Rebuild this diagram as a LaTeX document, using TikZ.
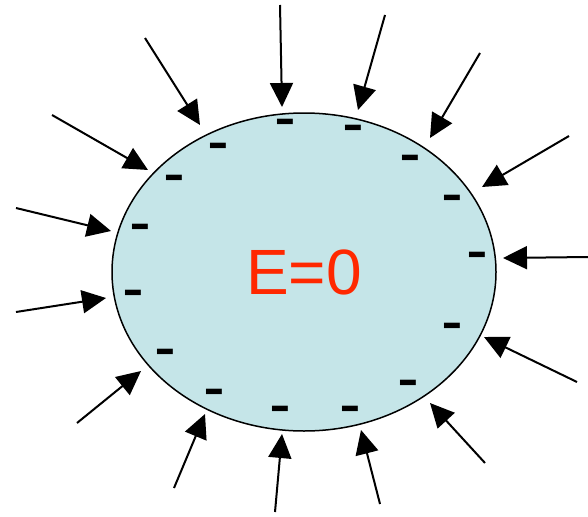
\documentclass[tikz,border=0pt]{standalone}
\usepackage{fontspec}
\setmainfont{Liberation Sans}
\usetikzlibrary{arrows.meta}
\definecolor{shellfill}{RGB}{197,229,232}
\definecolor{fieldred}{RGB}{255,40,0}
\tikzset{
  shell/.style={draw,line width=1.5pt,fill=shellfill},
  charge/.style={inner sep=0pt,font=\fontsize{32}{32}\selectfont\bfseries},
  fieldline/.style={line width=2pt,-{Triangle[length=24pt,width=23pt]}},
  label/.style={text=fieldred,font=\fontsize{64}{64}\selectfont}
}

\begin{document}
\begin{tikzpicture}[x=1pt,y=-1pt]
\useasboundingbox (0,0) rectangle (588,516);
\coordinate (O) at (304,272);
\draw[shell] (O) ellipse [x radius=192, y radius=159];
\node[label] (E) at (O) {E=0};
% charges on the surface
\foreach \x/\y [count=\i] in {285/127,353/133,410/163,452/203,477/260,452/331,408/388,
  350/414,280/414,214/397,165/357,133/298,140/232,174/183,218/151}
  \node[charge] (q\i) at (\x,\y+1) {\scalebox{1}[1.7]{–}};
% field lines pointing inward
\foreach \a/\b/\c/\d [count=\i] in {280/5/282/107,385/15/358/110,480/53/430/138,
  569/136/482/187,588/257/503/258,577/382/484/337,485/463/430/403,380/504/361/430,
  275/512/282/434,174/488/205/414,77/423/141/371,16/312/106/298,16/208/111/231,
  52/115/148/170,145/38/200/125}
{
  \coordinate (s\i) at (\a,\b);
  \coordinate (t\i) at (\c,\d);
  \draw[fieldline] (s\i) -- (t\i);
}
\end{tikzpicture}
\end{document}
